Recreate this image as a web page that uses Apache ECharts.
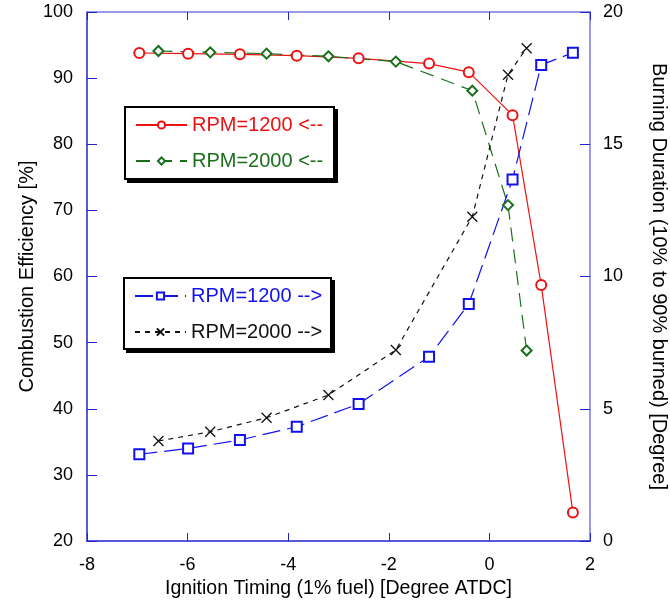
<!DOCTYPE html>
<html>
<head>
<meta charset="utf-8">
<script src="https://cdn.jsdelivr.net/npm/echarts@6/dist/echarts.min.js"></script>
<style>
html,body{margin:0;padding:0;background:#fff;}
#c{width:670px;height:611px;}
</style>
</head>
<body>
<div id="c"></div>
<script>
// Ignition timing (x) for the RPM=1200 runs and the RPM=2000 runs
const timing1200 = [-6.96, -5.99, -4.96, -3.83, -2.6, -1.2, -0.41, 0.46, 1.03, 1.66];
const timing2000 = [-6.58, -5.55, -4.43, -3.2, -1.86, -0.34, 0.37, 0.74];
// Combustion efficiency [%] (left axis)
const eff1200 = [93.8, 93.7, 93.6, 93.4, 93.0, 92.2, 90.9, 84.4, 58.7, 24.3];
const eff2000 = [94.1, 93.9, 93.7, 93.3, 92.5, 88.1, 70.8, 48.8];
// Burning duration [deg] (right axis)
const dur1200 = [3.28, 3.50, 3.82, 4.32, 5.18, 6.97, 8.96, 13.67, 18.0, 18.46];
const dur2000 = [3.78, 4.13, 4.66, 5.52, 7.22, 12.26, 17.63, 18.63];
// Axis ticks
const xTicks = [-8, -6, -4, -2, 0, 2];
const leftTicks = [20, 30, 40, 50, 60, 70, 80, 90, 100];
const rightTicks = [0, 5, 10, 15, 20];

const names = ['RPM=1200 <--', 'RPM=2000 <--', 'RPM=1200 -->', 'RPM=2000 -->'];
const colors = ['#ee1111', '#1a701a', '#1111ee', '#111111'];

const pair = (xs, ys) => xs.map((x, i) => [x, ys[i]]);
const FONT = 'Liberation Sans, Arial, sans-serif';
const axisBlue = '#2222cc';
const axisBlueLight = '#7777e0';

const chart = echarts.init(document.getElementById('c'), null, {renderer: 'canvas'});

const legendCommon = {
  orient: 'vertical',
  backgroundColor: 'transparent',
  borderWidth: 0,
  padding: [9, 7, 8, 11],
  itemGap: 16,
  itemWidth: 51,
  itemHeight: 9,
  textStyle: {fontFamily: FONT, fontSize: 20},
  selectedMode: false
};

function boxGraphic(x, y, w, h) {
  return [
    {type: 'rect', z: 1, silent: true, shape: {x: x + 3, y: y + 3, width: w, height: h},
     style: {fill: '#000', stroke: '#000', lineWidth: 2}},
    {type: 'rect', z: 2, silent: true, shape: {x: x, y: y, width: w, height: h},
     style: {fill: '#fff', stroke: '#000', lineWidth: 2}}
  ];
}

chart.setOption({
  animation: false,
  grid: {left: 87, right: 80, top: 12, bottom: 70, containLabel: false, outerBoundsMode: 'none'},
  graphic: boxGraphic(125, 107, 209, 72).concat(boxGraphic(124, 278, 207, 71)),
  legend: [
    Object.assign({}, legendCommon, {
      left: 124, top: 106, z: 10,
      data: [
        {name: names[0], textStyle: {color: colors[0]}},
        {name: names[1], textStyle: {color: colors[1]}}
      ]
    }),
    Object.assign({}, legendCommon, {
      left: 123, top: 277, z: 10,
      data: [
        {name: names[2], textStyle: {color: colors[2]}},
        {name: names[3], textStyle: {color: colors[3]}}
      ]
    })
  ],
  xAxis: [
    {
      type: 'value', position: 'bottom',
      min: xTicks[0], max: xTicks[xTicks.length - 1], interval: 2,
      name: 'Ignition Timing (1% fuel) [Degree ATDC]',
      nameLocation: 'middle', nameGap: 38, nameMoveOverlap: false,
      nameTextStyle: {fontFamily: FONT, fontSize: 19.5, color: '#000'},
      axisLine: {show: true, onZero: false, lineStyle: {color: axisBlue, width: 1.5}},
      axisTick: {show: true, inside: true, length: 8, lineStyle: {color: axisBlue}},
      axisLabel: {fontFamily: FONT, fontSize: 18, color: '#000', margin: 15},
      splitLine: {show: false}
    },
    {
      type: 'value', position: 'top',
      min: xTicks[0], max: xTicks[xTicks.length - 1], interval: 2,
      axisLine: {show: true, onZero: false, lineStyle: {color: axisBlueLight, width: 1.5}},
      axisTick: {show: true, inside: true, length: 8, lineStyle: {color: axisBlue}},
      axisLabel: {show: false},
      splitLine: {show: false}
    }
  ],
  yAxis: [
    {
      type: 'value', position: 'left',
      min: leftTicks[0], max: leftTicks[leftTicks.length - 1], interval: 10,
      name: 'Combustion Efficiency [%]',
      nameLocation: 'middle', nameGap: 50, nameMoveOverlap: false,
      nameTextStyle: {fontFamily: FONT, fontSize: 20, color: '#000'},
      axisLine: {show: true, onZero: false, lineStyle: {color: axisBlue, width: 1.5}},
      axisTick: {show: true, inside: true, length: 10, lineStyle: {color: axisBlue}},
      axisLabel: {fontFamily: FONT, fontSize: 18, color: '#000', margin: 14},
      splitLine: {show: false}
    },
    {
      type: 'value', position: 'right',
      min: rightTicks[0], max: rightTicks[rightTicks.length - 1], interval: 5,
      name: 'Burning Duration (10% to 90% burned) [Degree]',
      nameLocation: 'middle', nameGap: 59, nameRotate: -90, nameMoveOverlap: false,
      nameTextStyle: {fontFamily: FONT, fontSize: 20, color: '#000'},
      axisLine: {show: true, onZero: false, lineStyle: {color: axisBlueLight, width: 1.5}},
      axisTick: {show: true, inside: true, length: 10, lineStyle: {color: axisBlue}},
      axisLabel: {fontFamily: FONT, fontSize: 18, color: '#000', margin: 13},
      splitLine: {show: false}
    }
  ],
  series: [
    {
      name: names[0], type: 'line', xAxisIndex: 0, yAxisIndex: 0,
      data: pair(timing1200, eff1200),
      symbol: 'emptyCircle', symbolSize: 10,
      lineStyle: {color: colors[0], width: 1.2, type: 'solid'},
      itemStyle: {color: colors[0], borderWidth: 1.2}
    },
    {
      name: names[1], type: 'line', xAxisIndex: 0, yAxisIndex: 0,
      data: pair(timing2000, eff2000),
      symbol: 'emptyDiamond', symbolSize: 10,
      lineStyle: {color: colors[1], width: 1.2, type: [14, 8]},
      itemStyle: {color: colors[1], borderWidth: 1.2}
    },
    {
      name: names[2], type: 'line', xAxisIndex: 0, yAxisIndex: 1,
      data: pair(timing1200, dur1200),
      symbol: 'emptyRect', symbolSize: 10,
      lineStyle: {color: colors[2], width: 1.2, type: [18, 7]},
      itemStyle: {color: colors[2], borderWidth: 1.2}
    },
    {
      name: names[3], type: 'line', xAxisIndex: 0, yAxisIndex: 1,
      data: pair(timing2000, dur2000),
      symbol: 'path://M0,0L10,10M10,0L0,10', symbolSize: 10,
      lineStyle: {color: colors[3], width: 1.2, type: [5, 5]},
      itemStyle: {color: 'rgba(0,0,0,0)', borderColor: colors[3], borderWidth: 1.3}
    }
  ]
});
</script>
</body>
</html>
